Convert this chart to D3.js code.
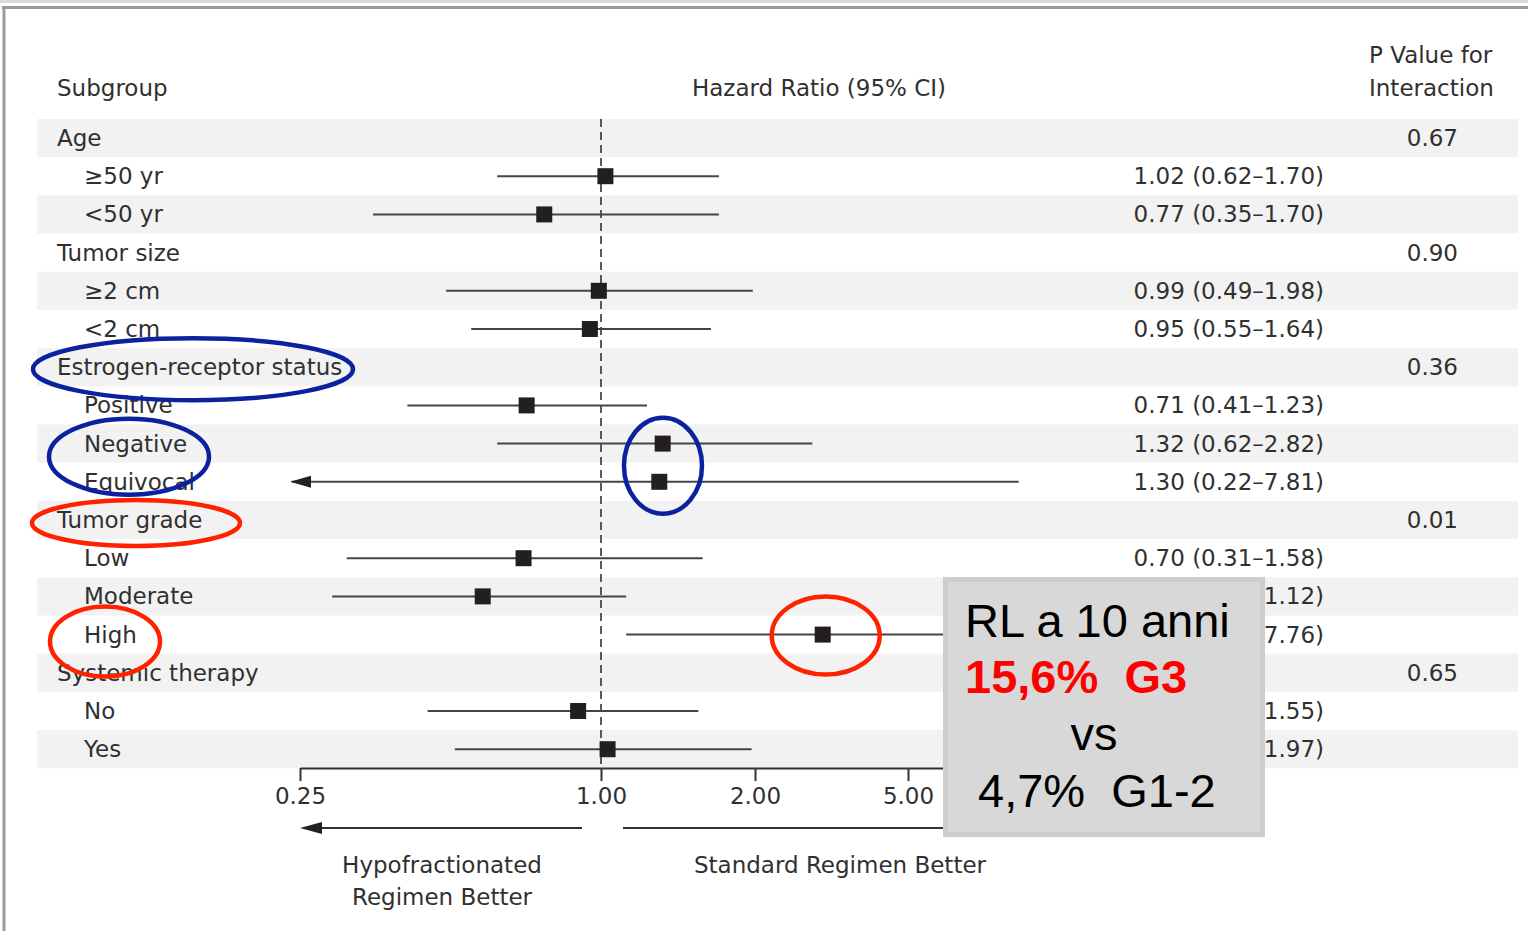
<!DOCTYPE html>
<html>
<head>
<meta charset="utf-8">
<script src="https://cdn.jsdelivr.net/npm/d3@7"></script>
<style>
  html, body { margin: 0; padding: 0; background: #fff; }
  svg { display: block; }
  .t { font-family: "DejaVu Sans", sans-serif; font-size: 23px; fill: #303030; }
  .box { font-family: "Liberation Sans", Arial, sans-serif; font-size: 47px; white-space: pre; }
</style>
</head>
<body>
<svg id="chart" width="1528" height="931"></svg>
<script>
// Subgroup rows, top to bottom
const labels = ["Age", "\u226550 yr", "<50 yr", "Tumor size", "\u22652 cm", "<2 cm",
  "Estrogen-receptor status", "Positive", "Negative", "Equivocal",
  "Tumor grade", "Low", "Moderate", "High",
  "Systemic therapy", "No", "Yes"];
const isHeader = [true, false, false, true, false, false, true, false, false, false,
  true, false, false, false, true, false, false];
// Hazard ratios with 95% confidence limits (null on group header rows)
const hr    = [null, 1.02, 0.77, null, 0.99, 0.95, null, 0.71, 1.32, 1.30, null, 0.70, 0.58, 3.00, null, 0.90, 1.03];
const lower = [null, 0.62, 0.35, null, 0.49, 0.55, null, 0.41, 0.62, 0.22, null, 0.31, 0.29, 1.12, null, 0.45, 0.51];
const upper = [null, 1.70, 1.70, null, 1.98, 1.64, null, 1.23, 2.82, 7.81, null, 1.58, 1.12, 7.76, null, 1.55, 1.97];
// P values for interaction on group header rows
const pValues = ["0.67", "", "", "0.90", "", "", "0.36", "", "", "", "0.01", "", "", "", "0.65", "", ""];
// Axis ticks
const tickValues = [0.25, 1, 2, 5];
const tickLabels = ["0.25", "1.00", "2.00", "5.00"];

const svg = d3.select("#chart");

// page frame
svg.append("rect").attr("x", 0).attr("y", 0).attr("width", 1528).attr("height", 3).attr("fill", "#dcdcdc");
svg.append("line").attr("x1", 2).attr("x2", 1528).attr("y1", 7.5).attr("y2", 7.5).attr("stroke", "#9a9a9a").attr("stroke-width", 3);
svg.append("line").attr("x1", 4).attr("x2", 4).attr("y1", 6).attr("y2", 931).attr("stroke", "#9a9a9a").attr("stroke-width", 3);

// log scale with the figure's stretched tick spacing
const x = d3.scaleLog()
  .domain([0.25, 1, 2, 5, 10])
  .range([300, 601, 755, 908, 1080]);

const rowH = 38.2, firstY = 138;
const y = i => firstY + i * rowH;

// callout geometry (drawn last, on top of the plot)
const bx = 943, by = 577, bw = 322, bh = 260;

// alternating row shading
svg.append("g").selectAll("rect")
  .data(labels.map((d, i) => i).filter(i => i % 2 === 0))
  .join("rect")
  .attr("x", 37).attr("width", 1481)
  .attr("y", i => y(i) - rowH / 2).attr("height", rowH)
  .attr("fill", "#f2f2f2");

// column headers
svg.append("text").attr("class", "t").attr("x", 57).attr("y", 96).text("Subgroup");
svg.append("text").attr("class", "t").attr("x", 819).attr("y", 96).attr("text-anchor", "middle").text("Hazard Ratio (95% CI)");
svg.append("text").attr("class", "t").attr("x", 1369).attr("y", 63).text("P Value for");
svg.append("text").attr("class", "t").attr("x", 1369).attr("y", 96).text("Interaction");

// reference line at HR = 1
svg.append("line")
  .attr("x1", x(1)).attr("x2", x(1))
  .attr("y1", y(0) - rowH / 2).attr("y2", 768)
  .attr("stroke", "#333").attr("stroke-width", 1.6)
  .attr("stroke-dasharray", "8,5");

// subgroup labels
svg.append("g").selectAll("text")
  .data(labels)
  .join("text")
  .attr("class", "t")
  .attr("x", (d, i) => isHeader[i] ? 57 : 84)
  .attr("y", (d, i) => y(i) + 8)
  .text(d => d);

// p values
svg.append("g").selectAll("text")
  .data(pValues)
  .join("text")
  .attr("class", "t")
  .attr("x", 1458).attr("text-anchor", "end")
  .attr("y", (d, i) => y(i) + 8)
  .text(d => d);

const fmt = d3.format(".2f");
const rows = labels.map((d, i) => i).filter(i => hr[i] !== null);

// HR (95% CI) text; rows running under the callout keep only the part left uncovered
const underBox = i => y(i) > by && y(i) < by + bh;
svg.append("g").selectAll("text")
  .data(rows)
  .join("text")
  .attr("class", "t")
  .attr("x", 1324).attr("text-anchor", "end")
  .attr("y", i => y(i) + 8)
  .text(i => underBox(i)
    ? `\u2013${fmt(upper[i])})`
    : `${fmt(hr[i])} (${fmt(lower[i])}\u2013${fmt(upper[i])})`);

// confidence interval whiskers; a limit below the axis is drawn as an arrow
const xMin = x.domain()[0];
const ci = svg.append("g");
ci.selectAll("line")
  .data(rows)
  .join("line")
  .attr("x1", i => lower[i] < xMin ? x(xMin) - 8 : x(lower[i]))
  .attr("x2", i => x(upper[i]))
  .attr("y1", i => y(i)).attr("y2", i => y(i))
  .attr("stroke", "#444").attr("stroke-width", 2);
ci.selectAll("path")
  .data(rows.filter(i => lower[i] < xMin))
  .join("path")
  .attr("d", i => {
    const tip = x(xMin) - 10, yy = y(i);
    return `M${tip},${yy} L${tip + 21},${yy - 6} L${tip + 21},${yy + 6} Z`;
  })
  .attr("fill", "#222");

// point estimates
svg.append("g").selectAll("rect")
  .data(rows)
  .join("rect")
  .attr("x", i => x(hr[i]) - 8).attr("y", i => y(i) - 8)
  .attr("width", 16).attr("height", 16)
  .attr("fill", "#231f20");

// x axis
const axisY = 768;
const axis = svg.append("g").attr("transform", `translate(0,${axisY})`)
  .call(d3.axisBottom(x).tickValues(tickValues).tickFormat((d, i) => tickLabels[i]).tickSize(13).tickSizeOuter(0));
axis.select(".domain").attr("stroke", "#333").attr("stroke-width", 2);
axis.selectAll(".tick line").attr("stroke", "#333").attr("stroke-width", 2);
axis.selectAll(".tick text")
  .attr("class", "t").attr("y", 20).attr("dy", "0.71em")
  .style("font-size", "23px").attr("fill", "#303030");

// favour arrows beneath the axis
svg.append("line").attr("x1", x(0.25) + 16).attr("x2", 582).attr("y1", 828).attr("y2", 828).attr("stroke", "#333").attr("stroke-width", 2);
svg.append("path").attr("d", `M${x(0.25)},828 L${x(0.25) + 22},822 L${x(0.25) + 22},834 Z`).attr("fill", "#222");
svg.append("line").attr("x1", 623).attr("x2", x(10)).attr("y1", 828).attr("y2", 828).attr("stroke", "#333").attr("stroke-width", 2);

svg.append("text").attr("class", "t").attr("x", 442).attr("y", 873).attr("text-anchor", "middle").text("Hypofractionated");
svg.append("text").attr("class", "t").attr("x", 442).attr("y", 905).attr("text-anchor", "middle").text("Regimen Better");
svg.append("text").attr("class", "t").attr("x", 840).attr("y", 873).attr("text-anchor", "middle").text("Standard Regimen Better");

// highlight ellipses
const blue = "#0a22a0", red = "#ff2200";
const rowOf = name => labels.indexOf(name);
const marks = [
  { cx: 193, cy: y(rowOf("Estrogen-receptor status")) + 2, rx: 160, ry: 31, c: blue },
  { cx: 129, cy: (y(rowOf("Negative")) + y(rowOf("Equivocal"))) / 2 - 6, rx: 80, ry: 38, c: blue },
  { cx: (x(hr[rowOf("Negative")]) + x(hr[rowOf("Equivocal")])) / 2 + 2, cy: (y(rowOf("Negative")) + y(rowOf("Equivocal"))) / 2 + 3, rx: 39, ry: 48, c: blue },
  { cx: 136, cy: y(rowOf("Tumor grade")) + 3, rx: 104, ry: 23, c: red },
  { cx: 105, cy: y(rowOf("High")) + 7, rx: 55, ry: 35, c: red },
  { cx: x(hr[rowOf("High")]) + 3, cy: y(rowOf("High")) + 1, rx: 54, ry: 39, c: red }
];
svg.append("g").selectAll("ellipse")
  .data(marks)
  .join("ellipse")
  .attr("cx", d => d.cx).attr("cy", d => d.cy)
  .attr("rx", d => d.rx).attr("ry", d => d.ry)
  .attr("fill", "none").attr("stroke", d => d.c).attr("stroke-width", 4.5);

// callout box
svg.append("rect").attr("x", bx).attr("y", by).attr("width", bw).attr("height", bh).attr("fill", "#cdcdcd");
svg.append("rect").attr("x", bx + 5).attr("y", by + 5).attr("width", bw - 10).attr("height", bh - 10).attr("fill", "#d8d8d8");
const boxLines = [
  { t: "RL a 10 anni", x: 965, y: 637, anchor: "start", fill: "#000", w: "normal" },
  { t: "15,6%  G3", x: 965, y: 693, anchor: "start", fill: "#ff0000", w: "bold" },
  { t: "vs", x: 1094, y: 750, anchor: "middle", fill: "#000", w: "normal" },
  { t: "4,7%  G1-2", x: 978, y: 807, anchor: "start", fill: "#000", w: "normal" }
];
svg.append("g").selectAll("text")
  .data(boxLines)
  .join("text")
  .attr("class", "box")
  .attr("x", d => d.x).attr("y", d => d.y)
  .attr("text-anchor", d => d.anchor)
  .attr("fill", d => d.fill)
  .attr("font-weight", d => d.w)
  .text(d => d.t);
</script>
</body>
</html>
